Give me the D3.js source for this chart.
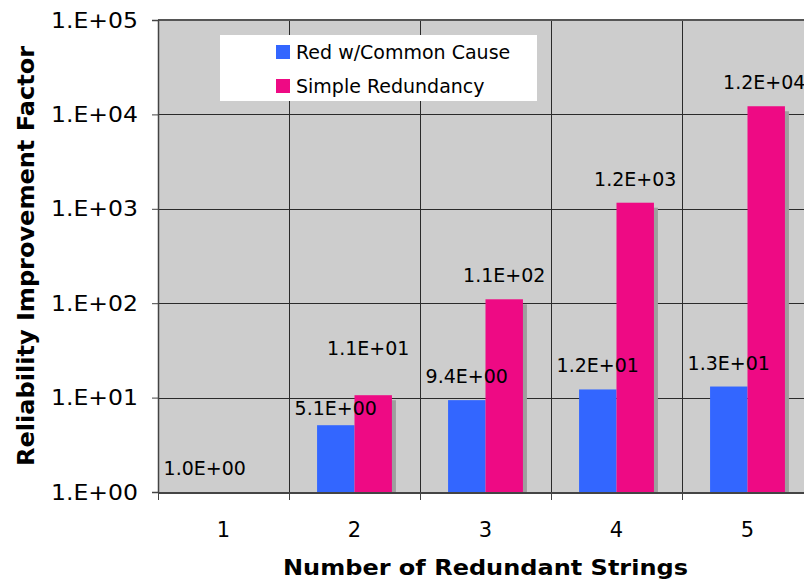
<!DOCTYPE html>
<html>
<head>
<meta charset="utf-8">
<script src="https://cdn.jsdelivr.net/npm/d3@7"></script>
<style>
  html, body { margin: 0; padding: 0; background: #fff; }
  svg { display: block; }
  text { font-family: "DejaVu Sans", Verdana, sans-serif; fill: #000; }
</style>
</head>
<body>
<svg id="chart" width="804" height="582"></svg>
<script>
// ---- data ----
const categories = ["1", "2", "3", "4", "5"];
const seriesNames = ["Red w/Common Cause", "Simple Redundancy"];
const redCommonCause = [1.0, 5.1, 9.4, 12.2, 13.1];
const simpleRedundancy = [null, 10.6, 110, 1160, 12200];
const yTickValues = [1, 10, 100, 1000, 10000, 100000];
const xTitle = "Number of Redundant Strings";
const yTitle = "Reliability Improvement Factor";

// ---- layout / style (not data) ----
const colors = ["#3366ff", "#ee0a84"];
const plot = { left: 158, top: 20, bottom: 492, catWidth: 131 };
// per-label nudges seen in the original (series index, category index) -> [dx, dy]
const labelNudge = { "0-1": [0, 7], "1-1": [-5, -23], "1-4": [-2, 0] };

const svg = d3.select("#chart");
const right = plot.left + plot.catWidth * categories.length;

const x = d3.scaleBand().domain(categories).range([plot.left, right]).paddingInner(0).paddingOuter(0);
const xs = d3.scaleBand().domain(seriesNames).range([0, x.bandwidth()]).paddingInner(0).paddingOuter(0.75);
const y = d3.scaleLog().domain([1, 100000]).range([plot.bottom, plot.top]);

const fmtE = v => {
  const [m, e] = v.toExponential(1).split("e");
  const sign = e[0] === "-" ? "-" : "+";
  const digits = e.replace(/[+-]/, "").padStart(2, "0");
  return m + "E" + sign + digits;
};
const fmtTick = v => {
  const e = Math.round(Math.log10(v));
  return "1.E+" + String(e).padStart(2, "0");
};

// background
svg.append("rect")
  .attr("x", plot.left).attr("y", plot.top)
  .attr("width", right - plot.left).attr("height", plot.bottom - plot.top)
  .attr("fill", "#cdcdcd");

// horizontal grid
svg.append("g").selectAll("line").data(yTickValues).join("line")
  .attr("x1", plot.left).attr("x2", right)
  .attr("y1", d => Math.round(y(d)) + 0.5).attr("y2", d => Math.round(y(d)) + 0.5)
  .attr("stroke", "#2a2a2a").attr("stroke-width", 1);

// vertical grid at category boundaries
const bounds = categories.map(c => x(c)).concat([right]);
svg.append("g").selectAll("line").data(bounds.slice(1)).join("line")
  .attr("x1", d => Math.round(d) + 0.5).attr("x2", d => Math.round(d) + 0.5)
  .attr("y1", plot.top).attr("y2", plot.bottom)
  .attr("stroke", "#2a2a2a").attr("stroke-width", 1);

// top border
svg.append("line").attr("x1", plot.left).attr("x2", right)
  .attr("y1", plot.top).attr("y2", plot.top)
  .attr("stroke", "#555").attr("stroke-width", 2);

// bars
const allSeries = [redCommonCause, simpleRedundancy];
const barData = [];
allSeries.forEach((arr, si) => arr.forEach((v, ci) => {
  if (v != null) barData.push({ si, ci, v, cat: categories[ci], name: seriesNames[si] });
}));

// shadows
svg.append("g").selectAll("rect").data(barData.filter(d => d.si === 1)).join("rect")
  .attr("x", d => x(d.cat) + xs(d.name) + 4)
  .attr("y", d => y(d.v) + 5)
  .attr("width", xs.bandwidth())
  .attr("height", d => Math.max(0, plot.bottom - y(d.v) - 5))
  .attr("fill", "#9e9e9e");

svg.append("g").selectAll("rect").data(barData).join("rect")
  .attr("x", d => x(d.cat) + xs(d.name))
  .attr("y", d => y(d.v))
  .attr("width", xs.bandwidth())
  .attr("height", d => plot.bottom - y(d.v))
  .attr("fill", d => colors[d.si]);

// axes
const yAxis = d3.axisLeft(y).tickValues(yTickValues).tickFormat(fmtTick).tickSize(6).tickPadding(14);
const gy = svg.append("g").attr("transform", `translate(${plot.left},0)`).call(yAxis);
gy.select(".domain").attr("stroke", "#444").attr("stroke-width", 1.5);
gy.selectAll(".tick line").attr("stroke", "#444");
gy.selectAll(".tick text").style("font-family", '"DejaVu Sans", Verdana, sans-serif')
  .style("font-size", "22px").attr("fill", "#000")
  .attr("textLength", 87).attr("lengthAdjust", "spacingAndGlyphs");

// bottom axis line + ticks at boundaries
svg.append("line").attr("x1", plot.left).attr("x2", right)
  .attr("y1", plot.bottom + 1).attr("y2", plot.bottom + 1)
  .attr("stroke", "#444").attr("stroke-width", 2);
svg.append("g").selectAll("line").data(bounds).join("line")
  .attr("x1", d => Math.round(d) + 0.5).attr("x2", d => Math.round(d) + 0.5)
  .attr("y1", plot.bottom).attr("y2", plot.bottom + 8)
  .attr("stroke", "#444").attr("stroke-width", 1);
svg.append("g").selectAll("text").data(categories).join("text")
  .attr("x", d => x(d) + x.bandwidth() / 2)
  .attr("y", 537)
  .attr("text-anchor", "middle")
  .style("font-size", "21px")
  .text(d => d);

// data labels
svg.append("g").selectAll("text").data(barData).join("text")
  .attr("x", d => x(d.cat) + xs(d.name) + xs.bandwidth() / 2 + ((labelNudge[d.si + "-" + d.ci] || [0, 0])[0]))
  .attr("y", d => y(d.v) - 17 + ((labelNudge[d.si + "-" + d.ci] || [0, 0])[1]))
  .attr("text-anchor", "middle")
  .style("font-size", "19px")
  .text(d => fmtE(d.v));

// legend
const lg = svg.append("g");
lg.append("rect").attr("x", 220).attr("y", 35).attr("width", 317).attr("height", 66).attr("fill", "#fff");
seriesNames.forEach((n, i) => {
  lg.append("rect").attr("x", 276).attr("y", 45 + i * 34).attr("width", 14).attr("height", 14).attr("fill", colors[i]);
  lg.append("text").attr("x", 296).attr("y", 52 + i * 34).attr("dominant-baseline", "central")
    .style("font-size", "19px").text(n);
});

// titles
svg.append("text")
  .attr("x", (plot.left + right) / 2).attr("y", 575)
  .attr("text-anchor", "middle")
  .style("font-size", "22px").style("font-weight", "bold")
  .attr("textLength", 405).attr("lengthAdjust", "spacingAndGlyphs")
  .text(xTitle);
svg.append("text")
  .attr("transform", `translate(34,${(plot.top + plot.bottom) / 2}) rotate(-90)`)
  .attr("text-anchor", "middle")
  .style("font-size", "23px").style("font-weight", "bold")
  .attr("textLength", 420).attr("lengthAdjust", "spacingAndGlyphs")
  .text(yTitle);
</script>
</body>
</html>
